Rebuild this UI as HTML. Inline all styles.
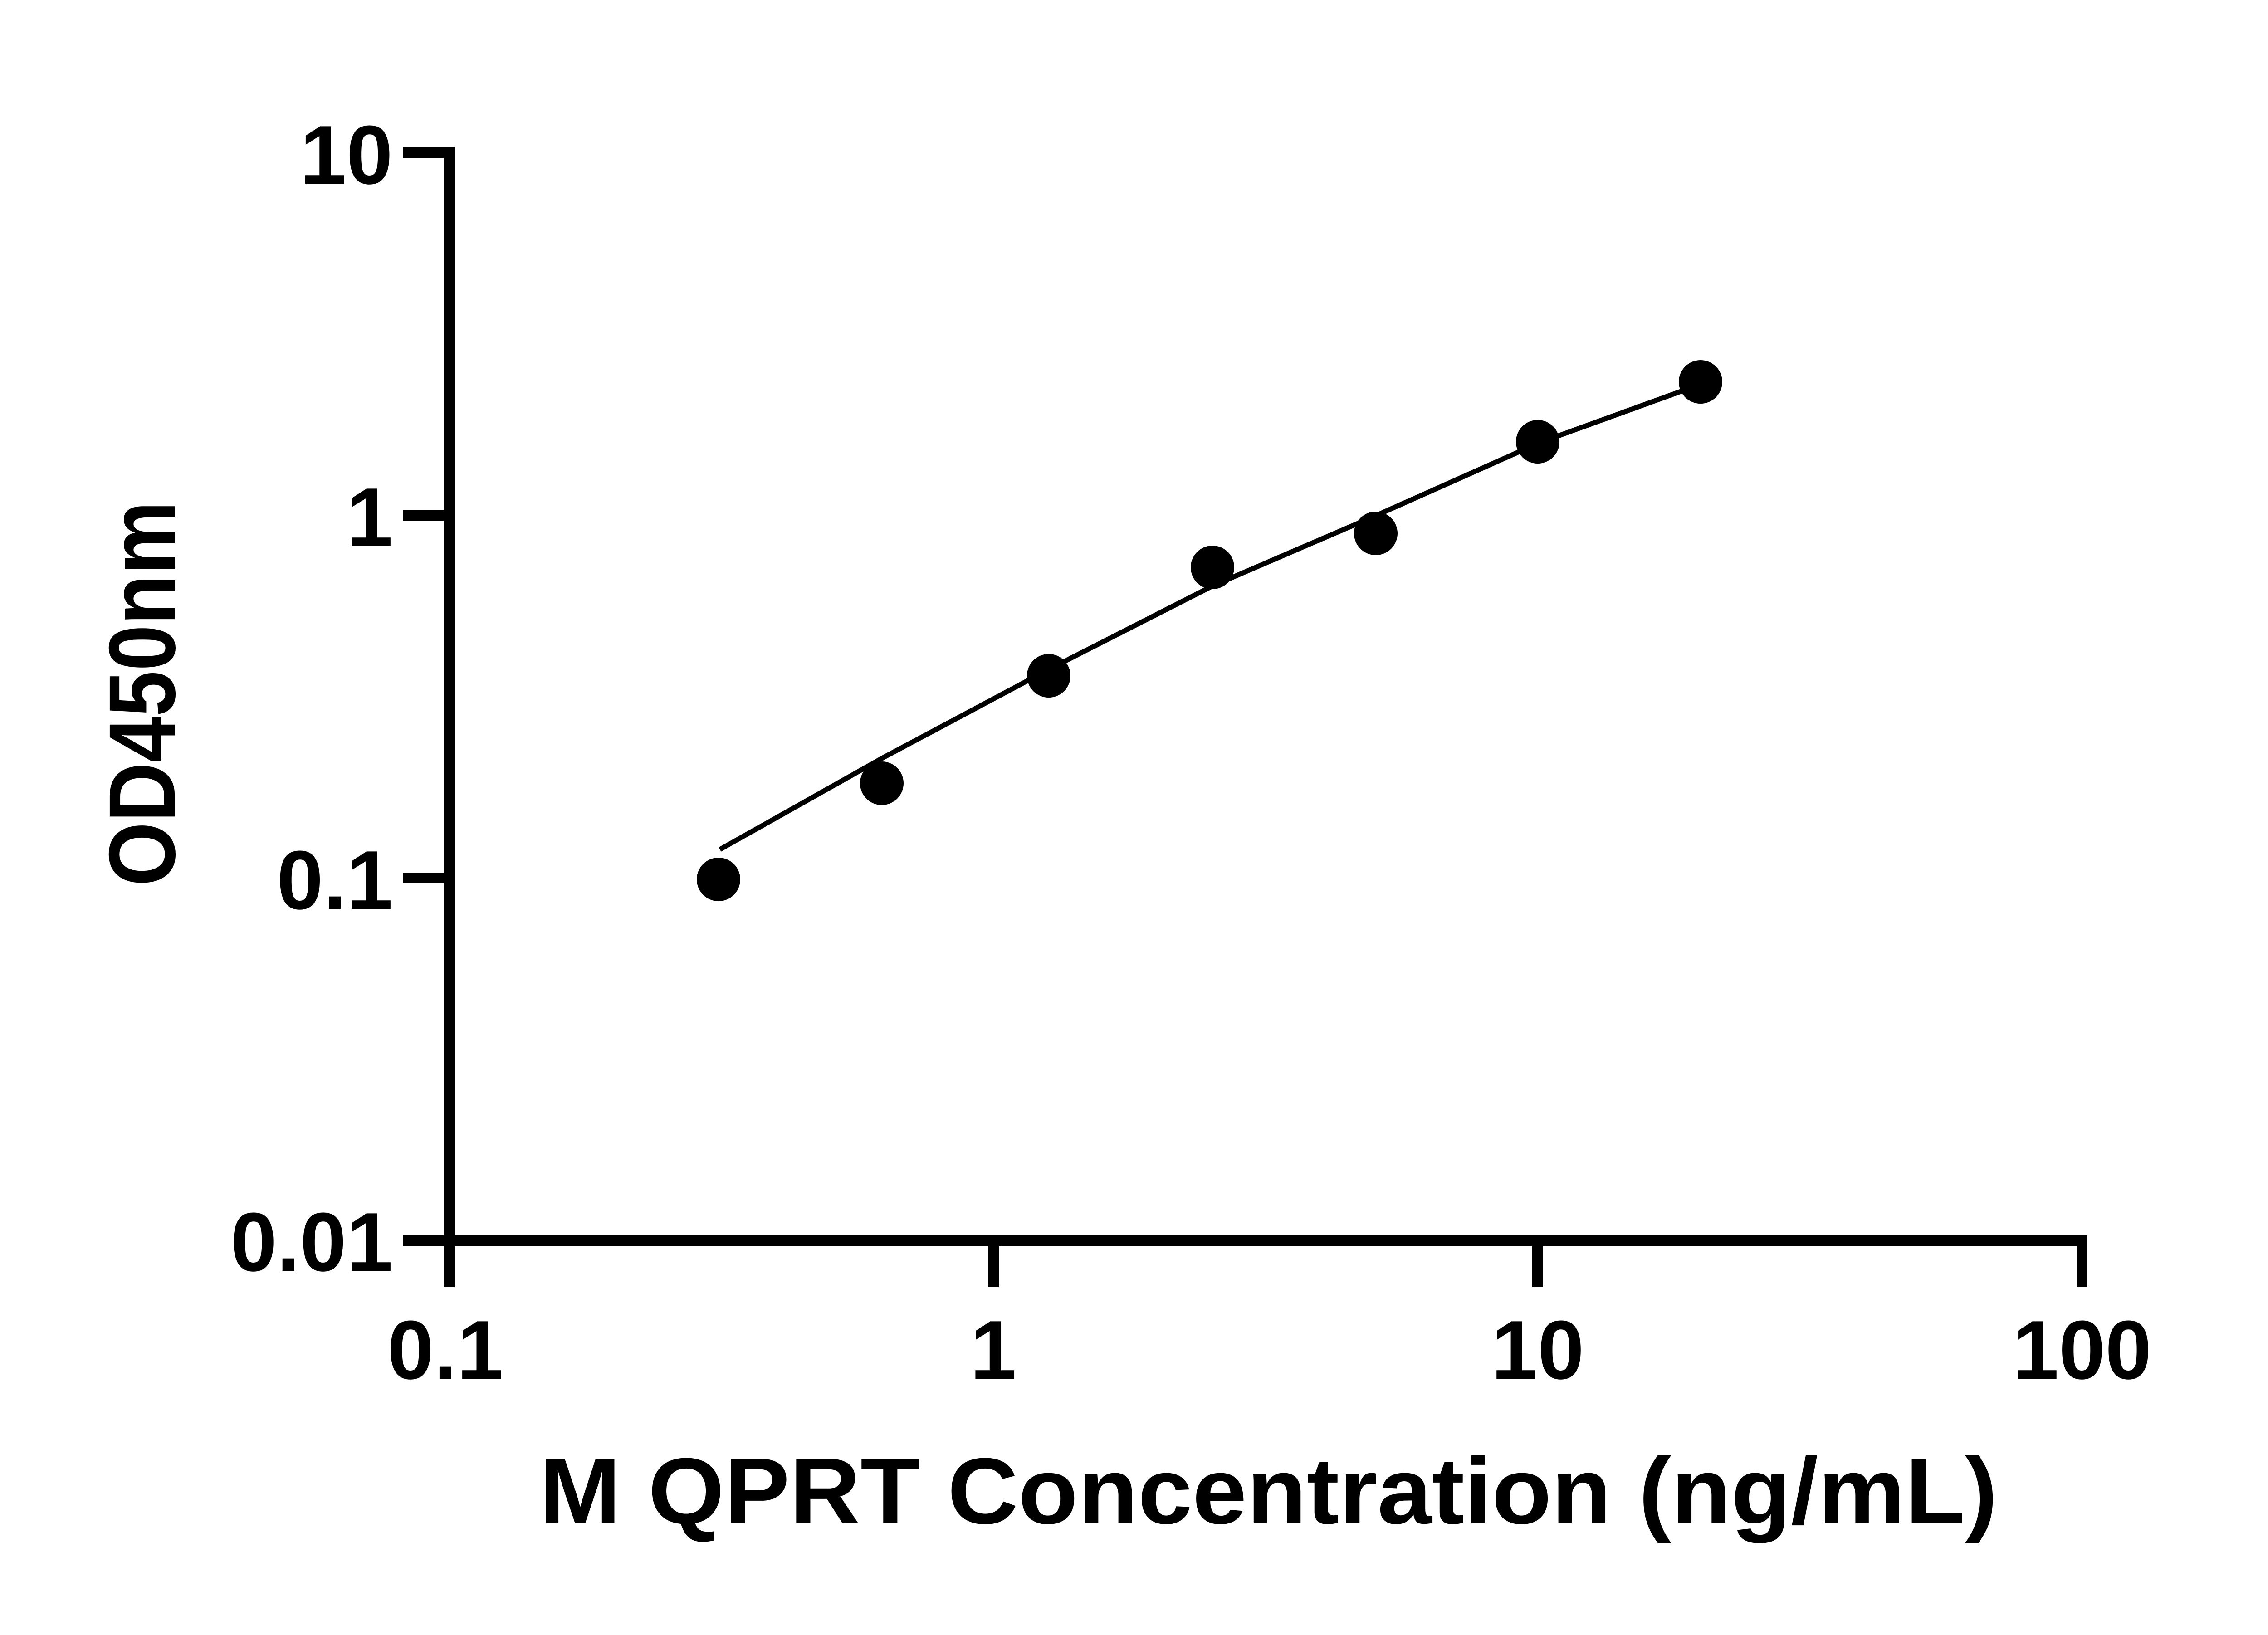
<!DOCTYPE html>
<html><head><style>body{margin:0;background:#fff}</style></head><body>
<svg width="5142" height="3600" viewBox="0 0 5142 3600" xmlns="http://www.w3.org/2000/svg" font-family="Liberation Sans, sans-serif" font-weight="bold">
<g stroke="#000" stroke-width="24" fill="none" stroke-linecap="butt">
<line x1="990" y1="324" x2="990" y2="2748"/>
<line x1="978" y1="2736" x2="4602" y2="2736"/>
<line x1="888" y1="336" x2="1002" y2="336"/>
<line x1="888" y1="1136" x2="990" y2="1136"/>
<line x1="888" y1="1936" x2="990" y2="1936"/>
<line x1="888" y1="2736" x2="990" y2="2736"/>
<line x1="990" y1="2736" x2="990" y2="2838"/>
<line x1="2190" y1="2736" x2="2190" y2="2838"/>
<line x1="3390" y1="2736" x2="3390" y2="2838"/>
<line x1="4590" y1="2724" x2="4590" y2="2838"/>
</g>
<polyline fill="none" stroke="#000" stroke-width="11" points="1587,1873 1948,1670 2312,1476 2673,1292 3033,1137 3394,976 3755,845"/>
<g fill="#000">
<circle cx="1584" cy="1939" r="48"/>
<circle cx="1944" cy="1727" r="48"/>
<circle cx="2312" cy="1490" r="48"/>
<circle cx="2673" cy="1251" r="48"/>
<circle cx="3033" cy="1176" r="48"/>
<circle cx="3390" cy="974" r="48"/>
<circle cx="3749" cy="842" r="48"/>
</g>
<g font-size="184" text-anchor="end" fill="#000">
<text x="866" y="405">10</text>
<text x="866" y="1204">1</text>
<text x="866" y="2004">0.1</text>
<text x="866" y="2802">0.01</text>
</g>
<g font-size="184" text-anchor="middle" fill="#000">
<text x="982" y="3040">0.1</text>
<text x="2190" y="3040">1</text>
<text x="3390" y="3040">10</text>
<text x="4590" y="3040">100</text>
</g>
<text x="1189" y="3359" font-size="207" textLength="3215" lengthAdjust="spacingAndGlyphs">M QPRT Concentration (ng/mL)</text>
<text transform="translate(385,1954) rotate(-90)" font-size="208" textLength="849" lengthAdjust="spacingAndGlyphs">OD450nm</text>
</svg>
</body></html>
